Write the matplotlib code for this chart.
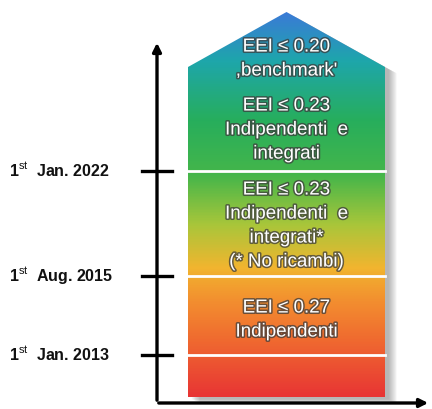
import numpy as np
import matplotlib
matplotlib.use("Agg")
import matplotlib.pyplot as plt
from matplotlib.colors import LinearSegmentedColormap
from matplotlib.patches import Polygon
import matplotlib.patheffects as pe

plt.rcParams['font.family'] = ['Liberation Sans', 'DejaVu Sans']
plt.rcParams['mathtext.fontset'] = 'custom'
plt.rcParams['mathtext.rm'] = 'Liberation Sans'
plt.rcParams['mathtext.bf'] = 'Liberation Sans:bold'

# timeline milestones (bottom to top)
dates = [r'1$^{\mathrm{st}}$  Jan. 2013', r'1$^{\mathrm{st}}$  Aug. 2015', r'1$^{\mathrm{st}}$  Jan. 2022']
date_y = [355, 276, 171]

# requirement blocks (text lines, top to bottom)
blocks = [
    ['EEI ≤ 0.20', ',benchmark\''],
    ['EEI ≤ 0.23', 'Indipendenti  e', 'integrati'],
    ['EEI ≤ 0.23', 'Indipendenti  e', 'integrati*', '(* No ricambi)'],
    ['EEI ≤ 0.27', 'Indipendenti'],
]
block_y = [47, 106, 190, 308]

# gradient stops: (y pixel, colour)
grad_y = [12, 60, 120, 175, 225, 268, 300, 345, 397]
grad_c = ['#3a7bd6', '#1ea6ab', '#27ae5c', '#45b64a', '#a9c63a',
          '#f1b52f', '#f3902f', '#ef6630', '#e83534']

W, H = 432, 409
fig = plt.figure(figsize=(W / 100, H / 100), dpi=100)
ax = fig.add_axes([0, 0, 1, 1])
ax.set_xlim(0, W)
ax.set_ylim(H, 0)
ax.axis('off')

x0, x1 = 188, 385
top, shoulder, bottom = 12, 67, 397
xm = (x0 + x1) / 2
shape = [(x0, bottom), (x0, shoulder), (xm, top), (x1, shoulder), (x1, bottom)]

# soft drop shadow
for k in range(1, 12):
    sh = [(x + 3 + k * 0.8, y + 2 + k * 0.4) for x, y in shape]
    ax.add_patch(Polygon(sh, closed=True, fc='#303030', ec='none', alpha=0.035, zorder=1))

# gradient fill
pos = [(g - top) / (bottom - top) for g in grad_y]
cmap = LinearSegmentedColormap.from_list('eei', list(zip(pos, grad_c)))
grad = np.linspace(0, 1, 400).reshape(-1, 1)
im = ax.imshow(grad, cmap=cmap, extent=(x0, x1, bottom, top), aspect='auto', zorder=2)
clip = Polygon(shape, closed=True, fc='none', ec='none', transform=ax.transData)
ax.add_patch(clip)
im.set_clip_path(clip)

# dividers
for y in date_y:
    ax.plot([x0, x1], [y, y], color='white', lw=2, zorder=3)

# axes
ax.annotate('', xy=(157, 40), xytext=(157, 403),
            arrowprops=dict(arrowstyle='-|>,head_length=0.5,head_width=0.25', color='black', lw=2.4))
ax.annotate('', xy=(431, 403), xytext=(156, 403),
            arrowprops=dict(arrowstyle='-|>,head_length=0.5,head_width=0.25', color='black', lw=2.4))

for lab, y in zip(dates, date_y):
    ax.plot([142, 172], [y, y], color='black', lw=2.4, zorder=4)
    ax.text(9, y - 1, lab, fontsize=11.5, fontweight='bold', ha='left', va='center', color='#111111')

# block texts
fx = [pe.Stroke(linewidth=2.2, foreground='#3c3c3c', alpha=0.75), pe.Normal()]
for lines, y in zip(blocks, block_y):
    for i, s in enumerate(lines):
        ax.text(xm, y + i * 24, s, fontsize=13.5, color='white', ha='center', va='center',
                path_effects=fx, zorder=5)

fig.savefig('out.png', dpi=100)
